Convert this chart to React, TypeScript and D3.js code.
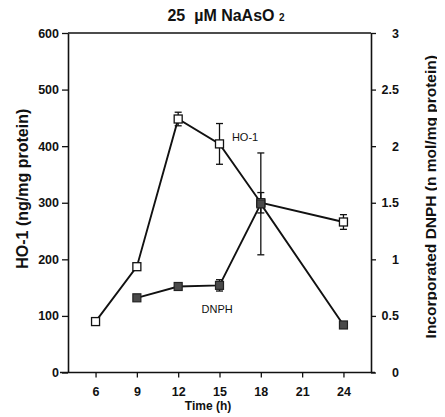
import React, { useRef, useEffect } from 'react';
import * as d3 from 'd3';

// time points (h)
const hours = [6, 9, 12, 15, 18, 24];
// HO-1 (ng/mg protein), left axis
const ho1Values = [90, 187, 448, 404, 300, 266];
const ho1Errors = [0, 0, 12, 36, 18, 13];
// incorporated DNPH (n mol/mg protein), right axis; no value at 6 h
const dnphHours = [9, 12, 15, 18, 24];
const dnphValues = [0.66, 0.76, 0.77, 1.49, 0.42];
const dnphErrors = [0, 0, 0.05, 0.45, 0];

const xTicks = [6, 9, 12, 15, 18, 21, 24];
const leftTicks = [0, 100, 200, 300, 400, 500, 600];
const rightTicks = [0, 0.5, 1, 1.5, 2, 2.5, 3];

function App() {
  const svgRef = useRef<SVGSVGElement>(null);

  useEffect(() => {
    const width = 445;
    const height = 417;
    const margin = { top: 33, right: 74, bottom: 44.5, left: 68 };
    const font = 'Liberation Sans, Arial, Helvetica, sans-serif';

    const svg = d3.select(svgRef.current)
      .attr('width', width)
      .attr('height', height)
      .style('font-family', font);
    svg.selectAll('*').remove();

    const x = d3.scaleLinear().domain([4, 26]).range([margin.left, width - margin.right]);
    const yL = d3.scaleLinear().domain([0, 600]).range([height - margin.bottom, margin.top]);
    const yR = d3.scaleLinear().domain([0, 3]).range([height - margin.bottom, margin.top]);

    const bottom = height - margin.bottom;

    // axes
    const ax = svg.append('g')
      .attr('transform', `translate(0, ${bottom})`)
      .call(d3.axisBottom(x).tickValues(xTicks).tickSize(5).tickSizeOuter(0));
    const axL = svg.append('g')
      .attr('transform', `translate(${margin.left}, 0)`)
      .call(d3.axisLeft(yL).tickValues(leftTicks).tickSize(6).tickSizeOuter(0).tickFormat(d3.format('d')));
    const axR = svg.append('g')
      .attr('transform', `translate(${width - margin.right}, 0)`)
      .call(d3.axisRight(yR).tickValues(rightTicks).tickSize(5).tickSizeOuter(0).tickFormat(d => String(d)));

    [ax, axL, axR].forEach(g => {
      g.selectAll('.domain').attr('stroke', '#111').attr('stroke-width', 1.6);
      g.selectAll('.tick line').attr('stroke', '#111').attr('stroke-width', 1.3);
      g.selectAll('.tick text')
        .attr('fill', '#111')
        .style('font-family', font)
        .style('font-size', '12.5px')
        .style('font-weight', 'bold');
    });
    ax.select('.domain').attr('d', `M${x(4) - 8},0H${x(26) + 4}`);
    ax.selectAll('.tick text').attr('dy', '1.2em');
    axR.selectAll('.tick text').attr('text-anchor', 'end').attr('x', 28);

    // top frame line
    svg.append('line')
      .attr('x1', x(4)).attr('x2', x(26))
      .attr('y1', yL(600)).attr('y2', yL(600))
      .attr('stroke', '#111').attr('stroke-width', 1.6);

    // lines
    const ho1 = hours.map((h, i) => ({ h, v: ho1Values[i], e: ho1Errors[i] }));
    const dnph = dnphHours.map((h, i) => ({ h, v: dnphValues[i], e: dnphErrors[i] }));

    svg.append('path')
      .datum(ho1)
      .attr('fill', 'none').attr('stroke', '#111').attr('stroke-width', 1.9)
      .attr('d', d3.line<any>().x(d => x(d.h)).y(d => yL(d.v)));
    svg.append('path')
      .datum(dnph)
      .attr('fill', 'none').attr('stroke', '#111').attr('stroke-width', 1.9)
      .attr('d', d3.line<any>().x(d => x(d.h)).y(d => yR(d.v)));

    // error bars
    const errBars = (data: any[], y: d3.ScaleLinear<number, number>) => {
      const g = svg.append('g').attr('stroke', '#111').attr('stroke-width', 1.3);
      data.filter(d => d.e > 0).forEach(d => {
        const cx = x(d.h);
        g.append('line').attr('x1', cx).attr('x2', cx).attr('y1', y(d.v - d.e)).attr('y2', y(d.v + d.e));
        [d.v - d.e, d.v + d.e].forEach(v => {
          g.append('line').attr('x1', cx - 3.5).attr('x2', cx + 3.5).attr('y1', y(v)).attr('y2', y(v));
        });
      });
    };
    errBars(ho1, yL);
    errBars(dnph, yR);

    // markers
    const s = 8;
    svg.append('g').selectAll('rect').data(ho1).enter().append('rect')
      .attr('x', d => x(d.h) - s / 2).attr('y', d => yL(d.v) - s / 2)
      .attr('width', s).attr('height', s)
      .attr('fill', '#fff').attr('stroke', '#111').attr('stroke-width', 1.3);
    svg.append('g').selectAll('rect').data(dnph).enter().append('rect')
      .attr('x', d => x(d.h) - s / 2).attr('y', d => yR(d.v) - s / 2)
      .attr('width', s).attr('height', s)
      .attr('fill', '#4a4a4a').attr('stroke', '#222').attr('stroke-width', 1.2);

    // series labels
    svg.append('text')
      .attr('x', x(15.9)).attr('y', yL(410))
      .style('font-size', '11px').attr('fill', '#111')
      .text('HO-1');
    svg.append('text')
      .attr('x', x(13.7)).attr('y', yR(0.525))
      .style('font-size', '11px').attr('fill', '#111')
      .text('DNPH');

    // title
    const title = svg.append('text')
      .attr('x', 226).attr('y', 21)
      .attr('text-anchor', 'middle')
      .style('font-size', '16px').style('font-weight', 'bold').attr('fill', '#111')
      .attr('xml:space', 'preserve');
    title.append('tspan').text('25\u00a0 µM NaAsO ');
    title.append('tspan').style('font-size', '10px').text('2');

    // axis titles
    svg.append('text')
      .attr('x', 208).attr('y', 410)
      .attr('text-anchor', 'middle')
      .style('font-size', '12px').style('font-weight', 'bold').attr('fill', '#111')
      .text('Time (h)');
    svg.append('text')
      .attr('transform', `translate(28, ${(margin.top + bottom) / 2 - 14}) rotate(-90)`)
      .attr('text-anchor', 'middle')
      .style('font-size', '16px').style('font-weight', 'bold').attr('fill', '#111')
      .text('HO-1 (ng/mg protein)');
    svg.append('text')
      .attr('transform', `translate(436, ${(margin.top + bottom) / 2 - 6}) rotate(-90)`)
      .attr('text-anchor', 'middle')
      .style('font-size', '15.5px').style('font-weight', 'bold').attr('fill', '#111')
      .text('Incorporated DNPH (n mol/mg protein)');
  }, []);

  return (
    <div style={{ margin: -8 }}>
      <svg ref={svgRef}></svg>
    </div>
  );
}

export default App;
